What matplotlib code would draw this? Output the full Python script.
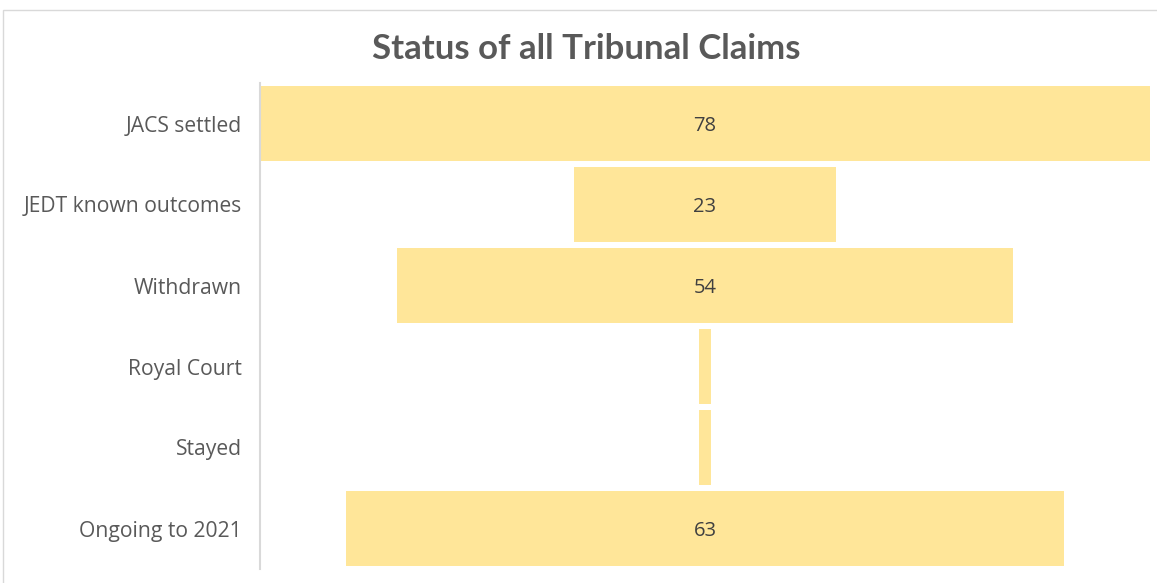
import matplotlib.pyplot as plt
from matplotlib.patches import Rectangle

categories = ["JACS settled", "JEDT known outcomes", "Withdrawn", "Royal Court", "Stayed", "Ongoing to 2021"]
values = [78, 23, 54, 1, 1, 63]
show_label = [True, True, True, False, False, True]

plt.rcParams['font.family'] = ['Open Sans', 'DejaVu Sans']
W, H = 1157, 583
fig = plt.figure(figsize=(W/100, H/100), dpi=100)
fig.patches.append(Rectangle((3/W, -0.05), 1.2, 1 - 10/H + 0.05, transform=fig.transFigure,
                             fill=False, edgecolor='#D9D9D9', linewidth=1))
ax = fig.add_axes([260/W, 1 - 569/H, (1150-260)/W, (569-83)/H])
ys = list(range(len(categories)))
lefts = [-v/2 for v in values]
ax.barh(ys, values, left=lefts, height=0.926, color='#FFE699')
for y, v, s in zip(ys, values, show_label):
    if s:
        ax.text(0, y + 0.03, str(v), ha='center', va='center', fontsize=14.5, color='#404040')
ax.set_xlim(-39, 39)
ax.set_ylim(len(categories) - 0.5, -0.5)
ax.set_yticks(ys)
ax.set_yticklabels(categories, fontsize=15.2, color='#595959')
ax.set_xticks([])
ax.tick_params(axis='y', length=0, pad=13)
for s in ['top', 'right', 'bottom']:
    ax.spines[s].set_visible(False)
ax.spines['left'].set_color('#D9D9D9')
ax.spines['left'].set_linewidth(1.5)
fig.text(586/W, 1 - 49/H, "Status of all Tribunal Claims", ha='center', va='center',
         fontsize=25, fontweight='bold', color='#595959', family=['Lato', 'DejaVu Sans'])
fig.savefig('out.png', dpi=100, facecolor='white')
